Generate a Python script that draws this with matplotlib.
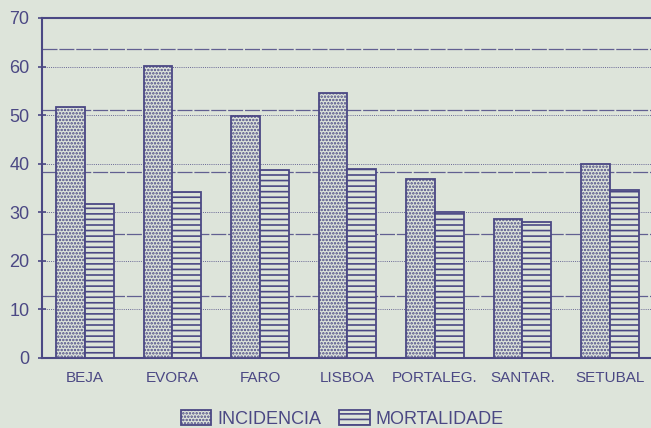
import matplotlib
matplotlib.use("Agg")
import matplotlib.pyplot as plt
import numpy as np

categories = ["BEJA", "EVORA", "FARO", "LISBOA", "PORTALEG.", "SANTAR.", "SETUBAL"]
incidencia = [51.7, 60.1, 49.8, 54.6, 36.9, 28.6, 39.9]
mortalidade = [31.7, 34.2, 38.7, 38.9, 30.1, 28.0, 34.6]
y_ticks = [0, 10, 20, 30, 40, 50, 60, 70]
ruled_lines = [12.7, 25.5, 38.3, 51.0, 63.7]

bg = "#dde4da"
ink = "#4b4884"

plt.rcParams['font.family'] = ['Liberation Sans', 'DejaVu Sans']
plt.rcParams['hatch.linewidth'] = 1.2

fig = plt.figure(figsize=(6.51, 4.28), dpi=100, facecolor=bg)
ax = fig.add_axes([42/651, 70/428, 1 - 42/651, (358-18)/428])
ax.set_facecolor(bg)

x = np.arange(len(categories))
w = 0.331
ax.bar(x - w/2, incidencia, width=w, facecolor=bg, edgecolor=ink, hatch='.....',
       linewidth=1.3, label="INCIDENCIA", zorder=3)
ax.bar(x + w/2, mortalidade, width=w, facecolor=bg, edgecolor=ink, hatch='---',
       linewidth=1.3, label="MORTALIDADE", zorder=3)

for v in y_ticks[1:-1]:
    ax.axhline(v, color=ink, linewidth=0.7, linestyle=(0, (1, 1.2)), alpha=0.8, zorder=1)
for v in ruled_lines:
    ax.axhline(v, color=ink, linewidth=0.9, linestyle=(0, (12, 1.5)), alpha=0.85, zorder=1)

ax.set_xlim(-0.491, 6.469)
ax.set_ylim(0, 70)
ax.set_yticks(y_ticks)
ax.set_xticks(x)
ax.set_xticklabels(categories)
ax.tick_params(axis='x', length=0, pad=9, labelsize=11, labelcolor=ink)
ax.tick_params(axis='y', direction='inout', length=6, width=1.2, color=ink, pad=6,
               labelsize=13, labelcolor=ink)
for s in ['left', 'bottom', 'top']:
    ax.spines[s].set_color(ink)
    ax.spines[s].set_linewidth(1.5)
ax.spines['right'].set_visible(False)

fig.legend(loc='lower center', bbox_to_anchor=(342/651, -0.038), ncol=2, frameon=False,
           fontsize=13, labelcolor=ink, handlelength=1.7, handleheight=0.9,
           columnspacing=1.0, handletextpad=0.3)

fig.savefig("out.png", dpi=100, facecolor=bg)
